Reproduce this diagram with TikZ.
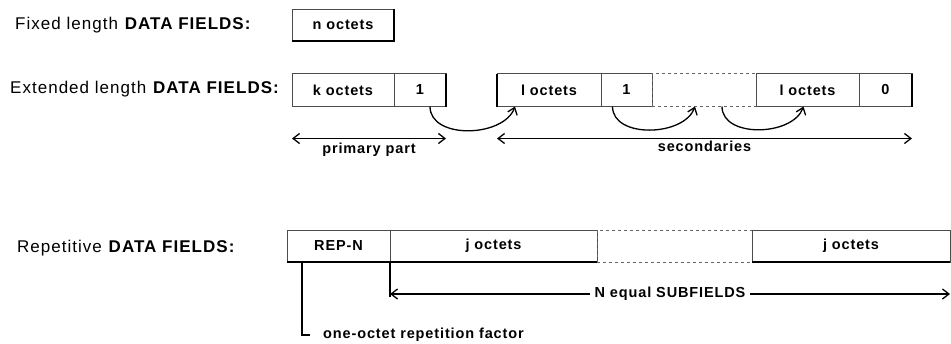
\documentclass[tikz,border=0pt]{standalone}
\usepackage{fontspec}
\usepackage{tikz}
\usetikzlibrary{positioning, arrows.meta}
\setmainfont{Liberation Sans}
\newfontfamily\labelfont{Liberation Sans}[LetterSpace=6]

\begin{document}
\begin{tikzpicture}[x=1pt, y=-1pt, >={Straight Barb[length=6.5pt, width=10pt]}]
    % Define the style for the nodes
    \tikzstyle{field} = [draw=black!70, line width=0.8pt, minimum height=32pt, inner sep=0pt, outer sep=0pt, font=\labelfont\bfseries\fontsize{14.5}{16}\selectfont]
    \tikzstyle{gap} = [field, dashed, draw=black!60]
    \tikzstyle{title} = [anchor=west, inner sep=0pt, font=\labelfont\fontsize{17}{19}\selectfont]
    \tikzstyle{note} = [inner sep=1pt, font=\labelfont\bfseries\fontsize{14.5}{16}\selectfont]
    \tikzstyle{shade} = [draw, line width=2pt]
    \tikzstyle{line} = [draw, ->, line width=1.3pt]
    \tikzstyle{span} = [draw, <->, line width=1.3pt]

    \useasboundingbox (0,0) rectangle (951,343);
    \clip (0,0) rectangle (951,343);

    % Place the nodes
    \node [title] (fixedlbl) at (15,25) {Fixed length \textbf{DATA FIELDS:}};
    \node [field, minimum width=102pt] (noct) at (343,25) {n octets};

    \node [title] (extlbl) at (10,89) {Extended length \textbf{DATA FIELDS:}};
    \node [field, minimum width=102pt, minimum height=33pt] (koct) at (343,90) {k octets};
    \node [field, minimum width=52pt, minimum height=33pt, right=0pt of koct] (flag1) {1};
    \node [field, minimum width=104pt, minimum height=33pt] (loct1) at (549,90) {l octets};
    \node [field, minimum width=51pt, minimum height=33pt, right=0pt of loct1] (flag2) {1};
    \node [gap, minimum width=104pt, minimum height=33pt, right=0pt of flag2] (more) {};
    \node [field, minimum width=103pt, minimum height=33pt, right=0pt of more] (loct2) {l octets};
    \node [field, minimum width=53pt, minimum height=33pt, right=0pt of loct2] (flag0) {0};

    \node [title] (replbl) at (17,248) {Repetitive \textbf{DATA FIELDS:}};
    \node [field, minimum width=103pt] (repn) at (338.5,246) {REP-N};
    \node [field, minimum width=207pt, right=0pt of repn] (joct1) {j octets};
    \node [gap, minimum width=155pt, right=0pt of joct1] (same) {};
    \node [field, minimum width=198pt, right=0pt of same] (joct2) {j octets};
    \node [note, anchor=west] (factor) at (322,335) {one-octet repetition factor};

    % Shadow edges of the boxes
    \draw [shade] (noct.south west) -- (noct.south east) -- (noct.north east);
    \draw [shade] (flag1.north east) -- (flag1.south east);
    \draw [shade] (loct1.north west) -- (loct1.south west);
    \draw [shade] (flag0.north east) -- (flag0.south east);
    \draw [shade] (repn.south west) -- (joct1.south east);
    \draw [shade] (joct2.south west) -- (joct2.south east);

    % Connect the nodes with paths
    \path [line] ([xshift=10pt]flag1.south) to [out=-90, in=-110] ([xshift=18pt]loct1.south west);
    \path [line] ([xshift=-14pt]flag2.south) to [out=-90, in=-110] ([xshift=-9pt]more.south);
    \path [line] ([xshift=18pt]more.south) to [out=-90, in=-110] ([xshift=-4pt]loct2.south);

    \path [span] ([yshift=-32pt]koct.south west) -- node[note, below=3pt] {primary part} ([yshift=-32pt]flag1.south east);
    \path [span] ([yshift=-32pt]loct1.south west) -- node[note, below=1pt] {secondaries} ([yshift=-32pt]flag0.south east);

    \draw [line width=1.3pt] (joct1.south west) -- ([yshift=-35pt]joct1.south west);
    \path [span] ([yshift=-32pt]joct1.south west) -- node[note, fill=white, inner xsep=5pt] {N equal SUBFIELDS} ([yshift=-32pt]joct2.south east);
    \draw [line width=1.3pt] ([xshift=15pt]repn.south west) |- ([xshift=-12pt]factor.west);

\end{tikzpicture}
\end{document}
